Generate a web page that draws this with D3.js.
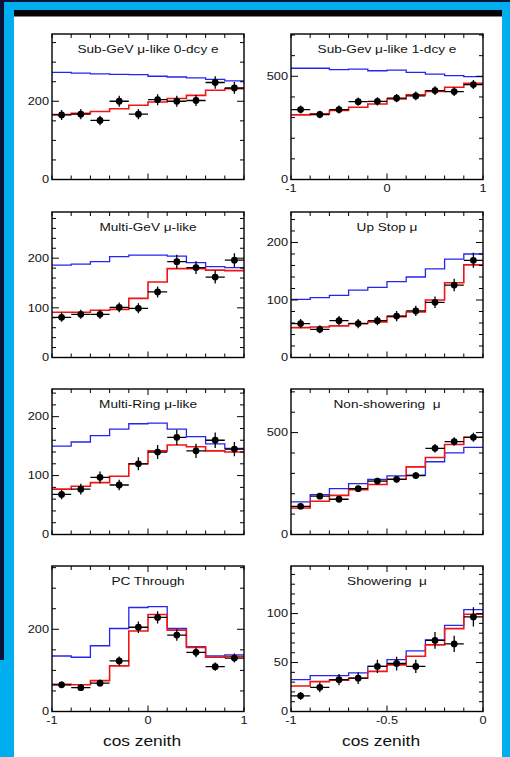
<!DOCTYPE html>
<html>
<head>
<meta charset="utf-8">
<script src="https://cdn.jsdelivr.net/npm/d3@7"></script>
<style>
  html, body { margin: 0; padding: 0; background: #0b1030; }
  svg { display: block; }
  text { font-family: "Liberation Sans", Arial, Helvetica, sans-serif; fill: #111; white-space: pre; }
</style>
</head>
<body>
<svg id="chart" width="510" height="757"></svg>
<script>
// Zenith-angle distributions: data (points), no-oscillation MC (blue), best-fit oscillation (red)
const titles = [
  "Sub-GeV \u03bc-like 0-dcy e", "Sub-Gev \u03bc-like 1-dcy e",
  "Multi-GeV \u03bc-like", "Up Stop \u03bc",
  "Multi-Ring \u03bc-like", "Non-showering  \u03bc",
  "PC Through", "Showering  \u03bc"
];

// Sub-GeV mu-like, 0 decay electron
const subGeV0Blue = [274, 272, 270, 269, 268, 264, 262, 260, 256, 252];
const subGeV0Red  = [166, 169, 174, 181, 190, 198, 207, 215, 228, 232];
const subGeV0Data = [165, 167, 151, 200, 167, 204, 200, 202, 248, 234];
const subGeV0Err  = [13, 13, 12, 14, 13, 14, 14, 14, 16, 15];

// Sub-GeV mu-like, 1 decay electron
const subGeV1Blue = [539, 539, 532, 535, 527, 530, 519, 511, 503, 498];
const subGeV1Red  = [313, 318, 334, 350, 366, 390, 411, 427, 447, 466];
const subGeV1Data = [339, 315, 339, 377, 379, 394, 405, 431, 426, 460];
const subGeV1Err  = [19, 18, 19, 20, 20, 20, 21, 21, 21, 22];

// Multi-GeV mu-like
const multiGeVBlue = [186, 188, 193, 203, 206, 206, 204, 191, 183, 181];
const multiGeVRed  = [91, 91, 95, 97, 119, 152, 179, 179, 176, 175];
const multiGeVData = [81, 87, 87, 101, 99, 132, 193, 181, 162, 196];
const multiGeVErr  = [9, 9, 9, 10, 10, 11, 14, 13, 13, 14];

// Upward stopping muons
const upStopBlue = [101, 104, 108, 117, 122, 132, 140, 154, 171, 180];
const upStopRed  = [52, 53, 55, 59, 62, 71, 79, 100, 130, 161];
const upStopData = [59, 49, 64, 59, 64, 72, 81, 96, 126, 169];
const upStopErr  = [8, 7, 8, 8, 8, 9, 9, 10, 11, 13];

// Multi-ring mu-like
const multiRingBlue = [150, 157, 168, 179, 188, 189, 179, 166, 154, 146];
const multiRingRed  = [77, 82, 88, 99, 120, 142, 152, 149, 142, 140];
const multiRingData = [68, 77, 97, 84, 120, 140, 165, 142, 160, 145];
const multiRingErr  = [8, 9, 10, 9, 11, 12, 13, 12, 13, 12];

// Upward through-going, non-showering muons
const nonShowerBlue = [160, 196, 225, 250, 270, 288, 291, 357, 401, 428];
const nonShowerRed  = [130, 163, 192, 220, 245, 271, 332, 378, 442, 477];
const nonShowerData = [138, 188, 173, 225, 262, 271, 289, 423, 456, 477];
const nonShowerErr  = [12, 14, 13, 15, 16, 16, 17, 21, 21, 22];

// Partially contained, through-going
const pcThroughBlue = [135, 132, 160, 202, 253, 255, 202, 158, 135, 138];
const pcThroughRed  = [66, 65, 75, 111, 196, 236, 198, 156, 132, 134];
const pcThroughData = [65, 58, 69, 123, 205, 229, 186, 144, 109, 130];
const pcThroughErr  = [8, 8, 8, 11, 14, 15, 14, 12, 10, 11];

// Upward through-going, showering muons
const showerBlue = [32.5, 36.6, 36.6, 39.4, 46, 53, 62, 73, 88, 104];
const showerRed  = [26, 30.5, 32, 34, 41, 47.6, 56.5, 68, 84.6, 99.3];
const showerData = [16, 24.7, 32.5, 34, 46, 49, 46, 72.6, 69, 96.6];
const showerErr  = [4, 5, 5.7, 5.8, 6.8, 7, 6.8, 8.5, 8.3, 9.8];

// Axis ranges and tick labels
const yMax        = [372, 705, 293, 253, 247, 714, 354, 148.6];
const yMinorStep  = [50, 100, 20, 20, 20, 100, 50, 10];
const yTickLabels = [[0, 200], [0, 500], [0, 100, 200], [0, 100, 200],
                     [0, 100, 200], [0, 500], [0, 200], [0, 50, 100]];
const fullXDomain  = [-1, 1];
const showerXDomain = [-1, 0];
const fullXLabels   = ["-1", "0", "1"];
const showerXLabels = ["-1", "-0.5", "0"];
const xAxisTitle = "cos zenith";

const panels = [
  { blue: subGeV0Blue, red: subGeV0Red, data: subGeV0Data, err: subGeV0Err },
  { blue: subGeV1Blue, red: subGeV1Red, data: subGeV1Data, err: subGeV1Err },
  { blue: multiGeVBlue, red: multiGeVRed, data: multiGeVData, err: multiGeVErr },
  { blue: upStopBlue, red: upStopRed, data: upStopData, err: upStopErr },
  { blue: multiRingBlue, red: multiRingRed, data: multiRingData, err: multiRingErr },
  { blue: nonShowerBlue, red: nonShowerRed, data: nonShowerData, err: nonShowerErr },
  { blue: pcThroughBlue, red: pcThroughRed, data: pcThroughData, err: pcThroughErr },
  { blue: showerBlue, red: showerRed, data: showerData, err: showerErr }
];

const svg = d3.select("#chart");

// Frame: dark backdrop, cyan border, white page with a dark header strip
svg.append("rect").attr("width", 510).attr("height", 757).attr("fill", "#0b1235");
svg.append("rect").attr("x", 4).attr("y", 2).attr("width", 506).attr("height", 755).attr("fill", "#00aeef");
svg.append("rect").attr("x", 0).attr("y", 660).attr("width", 4).attr("height", 97).attr("fill", "#00aeef");
svg.append("rect").attr("x", 14).attr("y", 10).attr("width", 488).attr("height", 747).attr("fill", "#ffffff");
svg.append("rect").attr("x", 14).attr("y", 10).attr("width", 488).attr("height", 6.5).attr("fill", "#050508");

const colLeft = [52, 291];
const rowTop = [34, 212, 389, 566];
const pw = 192, ph = 145.5;
const stretch = 1.24;   // wide glyphs

function addText(g, x, y, str, size, anchor) {
  return g.append("text")
    .attr("transform", `translate(${x},${y}) scale(${stretch},1)`)
    .attr("font-size", size)
    .attr("text-anchor", anchor)
    .attr("xml:space", "preserve")
    .text(str);
}

panels.forEach((p, i) => {
  const col = i % 2, row = Math.floor(i / 2);
  const x0 = colLeft[col], y0 = rowTop[row];
  const isShower = i === 7;
  const xDom = isShower ? showerXDomain : fullXDomain;
  const nb = p.data.length;
  const bw = (xDom[1] - xDom[0]) / nb;
  const edges = d3.range(nb + 1).map(k => xDom[0] + k * bw);
  const centers = d3.range(nb).map(k => xDom[0] + (k + 0.5) * bw);

  const x = d3.scaleLinear().domain(xDom).range([0, pw]);
  const y = d3.scaleLinear().domain([0, yMax[i]]).range([ph, 0]);

  const g = svg.append("g").attr("transform", `translate(${x0},${y0})`);
  const clipId = "clip" + i;
  g.append("clipPath").attr("id", clipId)
    .append("rect").attr("width", pw).attr("height", ph);
  const plot = g.append("g").attr("clip-path", `url(#${clipId})`);

  const step = d3.line().curve(d3.curveStepAfter)
    .x(d => x(d[0])).y(d => y(d[1]));
  const histPts = vals => edges.map((e, k) => [e, vals[Math.min(k, nb - 1)]]);

  plot.append("path").attr("d", step(histPts(p.blue)))
    .attr("fill", "none").attr("stroke", "#2525f2").attr("stroke-width", 1.3);
  plot.append("path").attr("d", step(histPts(p.red)))
    .attr("fill", "none").attr("stroke", "#f01414").attr("stroke-width", 1.6);

  // Data points with horizontal bin-width bars and vertical error bars
  const pts = plot.selectAll("g.pt").data(centers.map((c, k) => ({ c, v: p.data[k], e: p.err[k] })))
    .enter().append("g").attr("class", "pt");
  pts.append("line")
    .attr("x1", d => x(d.c - bw / 2)).attr("x2", d => x(d.c + bw / 2))
    .attr("y1", d => y(d.v)).attr("y2", d => y(d.v))
    .attr("stroke", "#000").attr("stroke-width", 1.3);
  pts.append("line")
    .attr("x1", d => x(d.c)).attr("x2", d => x(d.c))
    .attr("y1", d => y(d.v - d.e)).attr("y2", d => y(d.v + d.e))
    .attr("stroke", "#000").attr("stroke-width", 1.3);
  pts.append("circle")
    .attr("cx", d => x(d.c)).attr("cy", d => y(d.v)).attr("r", 3.4).attr("fill", "#000");

  // Ticks on all four sides, pointing inward
  const yMinor = d3.range(0, yMax[i] + 1e-6, yMinorStep[i]);
  const yMajorSet = new Set(yTickLabels[i]);
  const tickG = g.append("g").attr("stroke", "#000").attr("stroke-width", 1);
  yMinor.forEach(v => {
    const len = yMajorSet.has(v) ? 7 : 4;
    tickG.append("line").attr("x1", 0).attr("x2", len).attr("y1", y(v)).attr("y2", y(v));
    tickG.append("line").attr("x1", pw).attr("x2", pw - len).attr("y1", y(v)).attr("y2", y(v));
  });
  const xMinor = d3.range(nb + 1).map(k => xDom[0] + k * bw);
  xMinor.forEach((v, k) => {
    const len = (k === nb / 2) ? 6 : 4;
    tickG.append("line").attr("x1", x(v)).attr("x2", x(v)).attr("y1", ph).attr("y2", ph - len);
    tickG.append("line").attr("x1", x(v)).attr("x2", x(v)).attr("y1", 0).attr("y2", len);
  });

  g.append("rect").attr("width", pw).attr("height", ph)
    .attr("fill", "none").attr("stroke", "#000").attr("stroke-width", 1.4);

  // Y tick labels
  yTickLabels[i].forEach(v => {
    addText(g, -3, y(v) + 3.7, String(v), 10.3, "end");
  });

  // X tick labels: first row on the right, and the bottom row
  if (row === 3 || (row === 0 && col === 1)) {
    const labs = isShower ? showerXLabels : fullXLabels;
    const vals = [xDom[0], (xDom[0] + xDom[1]) / 2, xDom[1]];
    vals.forEach((v, k) => addText(g, x(v), ph + 12.5, labs[k], 10.3, "middle"));
  }
  if (row === 3) {
    addText(g, pw / 2 - 6, ph + 34, xAxisTitle, 14, "middle");
  }

  addText(g, pw / 2, 18.5, titles[i], 11, "middle");
});
</script>
</body>
</html>
